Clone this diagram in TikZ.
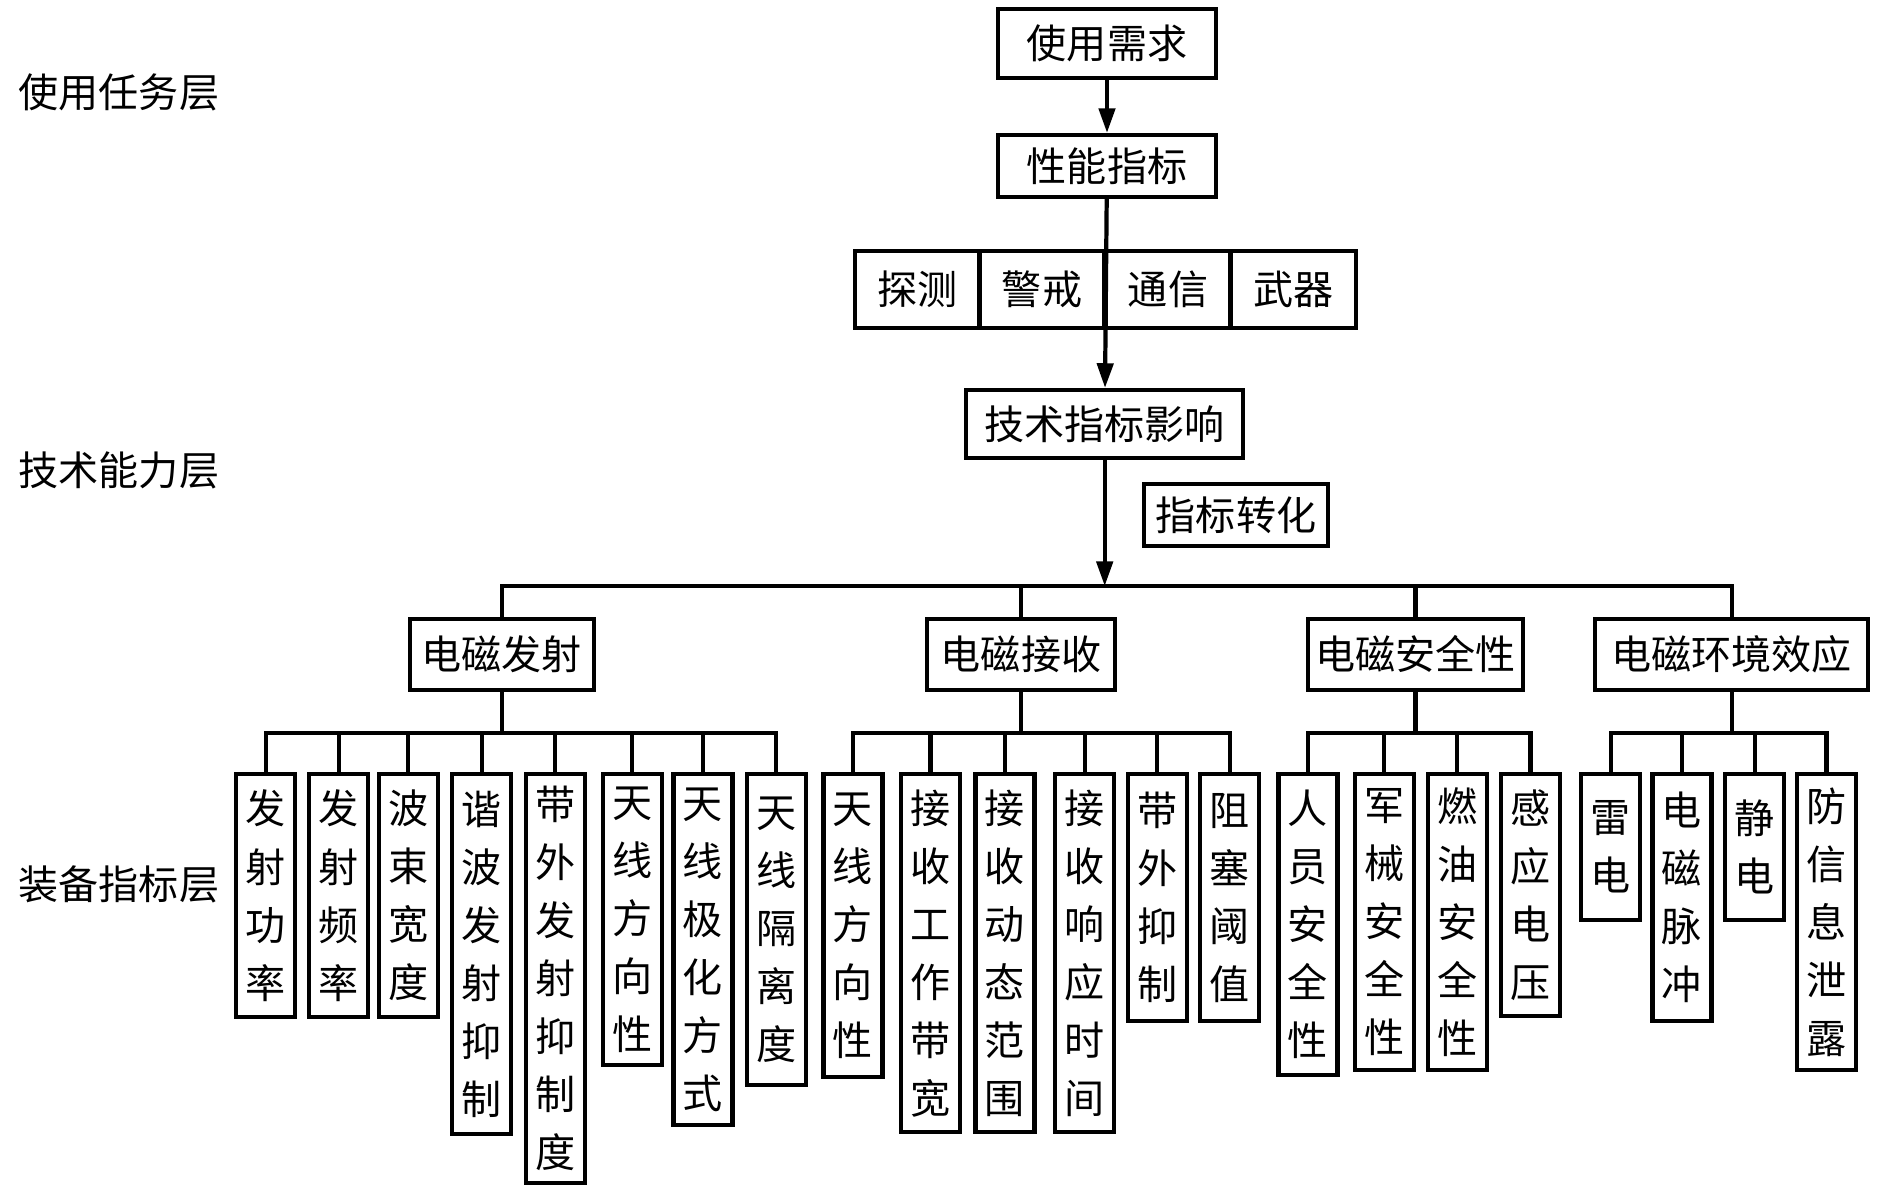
\documentclass[tikz,border=0pt]{standalone}
\usepackage{fontspec}
\setmainfont{Noto Sans CJK SC}
\usetikzlibrary{arrows.meta}

\begin{document}
\begin{tikzpicture}[
    x=0.01cm, y=-0.01cm,
    font=\fontsize{11.4pt}{16.5pt}\selectfont,
    blk/.style={draw, line width=1.2pt, inner sep=0pt},
    leaf/.style={draw, line width=1.2pt, inner sep=0pt, minimum width=0.59cm, anchor=north, align=center},
    layer/.style={anchor=west, inner sep=0pt},
    link/.style={line width=1.2pt},
    flow/.style={line width=1.2pt, -{Triangle[length=7pt, width=4.6pt]}}
]
    \useasboundingbox (0,0) rectangle (1890,1193);

    % Layers
    \node[layer] (lay1) at (18,92) {使用任务层};
    \node[layer] (lay2) at (18,470) {技术能力层};
    \node[layer] (lay3) at (18,884) {装备指标层};

    % Top chain
    \node[blk, minimum width=2.18cm, minimum height=0.69cm] (use) at (1107,43.5) {使用需求};
    \node[blk, minimum width=2.18cm, minimum height=0.62cm] (perf) at (1107,166) {性能指标};
    \node[blk, minimum width=1.25cm, minimum height=0.77cm] (detect) at (917.5,289.5) {探测};
    \node[blk, minimum width=1.25cm, minimum height=0.77cm] (alert) at (1042,289.5) {警戒};
    \node[blk, minimum width=1.25cm, minimum height=0.77cm] (comm) at (1168,289.5) {通信};
    \node[blk, minimum width=1.25cm, minimum height=0.77cm] (weapon) at (1293.5,289.5) {武器};
    \node[blk, minimum width=2.77cm, minimum height=0.68cm] (tech) at (1104.7,424) {技术指标影响};
    \node[blk, minimum width=1.84cm, minimum height=0.62cm] (conv) at (1236,515) {指标转化};

    % Categories
    \node[blk, minimum width=1.84cm, minimum height=0.71cm] (emit) at (501.7,654.5) {电磁发射};
    \node[blk, minimum width=1.88cm, minimum height=0.71cm] (recv) at (1021,654.5) {电磁接收};
    \node[blk, minimum width=2.15cm, minimum height=0.71cm] (safe) at (1415.4,654.5) {电磁安全性};
    \node[blk, minimum width=2.73cm, minimum height=0.71cm] (env) at (1731.7,654.5) {电磁环境效应};

    % Indicators
    \node[leaf, minimum height=2.43cm] (e1) at (265.7,772) {发\\射\\功\\率};
    \node[leaf, minimum height=2.43cm] (e2) at (338.7,772) {发\\射\\频\\率};
    \node[leaf, minimum height=2.43cm] (e3) at (408.3,772) {波\\束\\宽\\度};
    \node[leaf, minimum height=3.60cm] (e4) at (481.7,772) {谐\\波\\发\\射\\抑\\制};
    \node[leaf, minimum height=4.09cm] (e5) at (555.3,772) {带\\外\\发\\射\\抑\\制\\度};
    \node[leaf, minimum height=2.91cm] (e6) at (632.3,772) {天\\线\\方\\向\\性};
    \node[leaf, minimum height=3.51cm] (e7) at (703,772) {天\\线\\极\\化\\方\\式};
    \node[leaf, minimum height=3.11cm] (e8) at (776.2,772) {天\\线\\隔\\离\\度};

    \node[leaf, minimum height=3.03cm] (r1) at (852.9,772) {天\\线\\方\\向\\性};
    \node[leaf, minimum height=3.58cm] (r2) at (930.5,772) {接\\收\\工\\作\\带\\宽};
    \node[leaf, minimum height=3.58cm] (r3) at (1005,772) {接\\收\\动\\态\\范\\围};
    \node[leaf, minimum height=3.58cm] (r4) at (1084.7,772) {接\\收\\响\\应\\时\\间};
    \node[leaf, minimum height=2.47cm] (r5) at (1157.2,772) {带\\外\\抑\\制};
    \node[leaf, minimum height=2.47cm] (r6) at (1229.7,772) {阻\\塞\\阈\\值};

    \node[leaf, minimum height=3.01cm] (s1) at (1307.9,772) {人\\员\\安\\全\\性};
    \node[leaf, minimum height=2.96cm] (s2) at (1384.2,772) {军\\械\\安\\全\\性};
    \node[leaf, minimum height=2.96cm] (s3) at (1457.2,772) {燃\\油\\安\\全\\性};
    \node[leaf, minimum height=2.42cm] (s4) at (1530.5,772) {感\\应\\电\\压};

    \node[leaf, minimum height=1.46cm] (v1) at (1610.8,772) {雷\\电};
    \node[leaf, minimum height=2.47cm] (v2) at (1682,772) {电\\磁\\脉\\冲};
    \node[leaf, minimum height=1.46cm] (v3) at (1754.7,772) {静\\电};
    \node[leaf, minimum height=2.96cm] (v4) at (1826.4,772) {防\\信\\息\\泄\\露};

    % Buses
    \coordinate (trunk) at (0,586);
    \coordinate (bus) at (0,733);

    % Connectors
    \draw[flow] (use) -- (perf);
    \draw[flow] (perf) -- (tech);
    \draw[flow] (tech) -- (tech |- trunk);
    \draw[link] (emit.north) -- (emit |- trunk) -- (env |- trunk) -- (env.north);
    \draw[link] (recv.north) -- (recv |- trunk);
    \draw[link] (safe.north) -- (safe |- trunk);

    \draw[link] (emit.south) -- (emit |- bus);
    \draw[link] (e1.north) -- (e1 |- bus) -- (e8 |- bus) -- (e8.north);
    \foreach \n in {2,...,7}
        \draw[link] (e\n.north) -- (e\n |- bus);

    \draw[link] (recv.south) -- (recv |- bus);
    \draw[link] (r1.north) -- (r1 |- bus) -- (r6 |- bus) -- (r6.north);
    \foreach \n in {2,...,5}
        \draw[link] (r\n.north) -- (r\n |- bus);

    \draw[link] (safe.south) -- (safe |- bus);
    \draw[link] (s1.north) -- (s1 |- bus) -- (s4 |- bus) -- (s4.north);
    \foreach \n in {2,3}
        \draw[link] (s\n.north) -- (s\n |- bus);

    \draw[link] (env.south) -- (env |- bus);
    \draw[link] (v1.north) -- (v1 |- bus) -- (v4 |- bus) -- (v4.north);
    \foreach \n in {2,3}
        \draw[link] (v\n.north) -- (v\n |- bus);
\end{tikzpicture}
\end{document}
